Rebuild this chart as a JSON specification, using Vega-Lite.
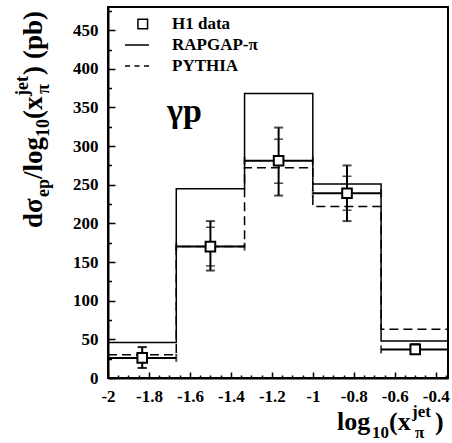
{
  "$schema": "https://vega.github.io/schema/vega-lite/v6.json",
  "width": 340,
  "height": 371,
  "autosize": {"type": "none"},
  "padding": {"left": 108, "top": 7, "right": 4, "bottom": 65},
  "background": "white",
  "config": {
    "view": {"stroke": "black", "strokeWidth": 2},
    "axis": {"labelFont": "Liberation Serif", "labelFontWeight": "bold", "labelFontSize": 17, "labelColor": "black"},
    "legend": {"labelFont": "Liberation Serif", "labelFontWeight": "bold", "labelFontSize": 17, "labelColor": "black"},
    "locale": {"number": {"decimal": ".", "thousands": ",", "grouping": [3], "currency": ["$", ""], "minus": "-"}}
  },
  "datasets": {
    "rapgap": [
      {"edge": -2, "val": 46}, {"edge": -1.6667, "val": 245}, {"edge": -1.3333, "val": 368},
      {"edge": -1, "val": 251}, {"edge": -0.6667, "val": 48}, {"edge": -0.3333, "val": 48}
    ],
    "pythia": [
      {"edge": -2, "val": 30}, {"edge": -1.6667, "val": 170}, {"edge": -1.3333, "val": 272},
      {"edge": -1, "val": 222}, {"edge": -0.6667, "val": 63}, {"edge": -0.3333, "val": 63}
    ],
    "h1": [
      {"x": -1.833, "lo": -2, "hi": -1.6667, "y": 26, "tot_lo": 13, "tot_hi": 40, "stat_lo": 13, "stat_hi": 40},
      {"x": -1.5, "lo": -1.6667, "hi": -1.3333, "y": 170, "tot_lo": 139, "tot_hi": 203, "stat_lo": 145, "stat_hi": 195},
      {"x": -1.167, "lo": -1.3333, "hi": -1, "y": 281, "tot_lo": 236, "tot_hi": 324, "stat_lo": 252, "stat_hi": 309},
      {"x": -0.833, "lo": -1, "hi": -0.6667, "y": 239, "tot_lo": 203, "tot_hi": 275, "stat_lo": 217, "stat_hi": 261},
      {"x": -0.5, "lo": -0.6667, "hi": -0.3333, "y": 37, "tot_lo": 31, "tot_hi": 44, "stat_lo": 33, "stat_hi": 42}
    ],
    "legend": [
      {"series": "H1 data"}, {"series": "RAPGAP-π"}, {"series": "PYTHIA"}
    ]
  },
  "resolve": {"axis": {"x": "independent", "y": "independent"}},
  "layer": [
    {
      "data": {"name": "rapgap"},
      "mark": {"type": "line", "interpolate": "step-after", "color": "black", "strokeWidth": 1.5, "clip": true},
      "encoding": {
        "x": {"field": "edge", "type": "quantitative",
          "scale": {"domain": [-2, -0.34], "nice": false, "zero": false},
          "axis": {"orient": "bottom", "values": [-2, -1.8, -1.6, -1.4, -1.2, -1, -0.8, -0.6, -0.4], "format": "~g",
            "title": null, "grid": false, "tickSize": -6, "tickWidth": 1.5, "tickColor": "black",
            "domainWidth": 2, "domainColor": "black", "labelFont": "Liberation Serif", "labelFontWeight": "bold",
            "labelFontSize": 17, "labelColor": "black", "labelPadding": 16, "labelFlush": false, "labelOverlap": false}},
        "y": {"field": "val", "type": "quantitative",
          "scale": {"domain": [0, 480], "nice": false, "zero": true},
          "axis": {"orient": "left", "values": [0, 50, 100, 150, 200, 250, 300, 350, 400, 450],
            "title": null, "grid": false, "tickSize": -7, "tickWidth": 1.5, "tickColor": "black",
            "domainWidth": 2, "domainColor": "black", "labelFont": "Liberation Serif", "labelFontWeight": "bold",
            "labelFontSize": 17, "labelColor": "black", "labelPadding": 17, "labelFlush": false, "labelOverlap": false}}
      }
    },
    {
      "data": {"name": "pythia"},
      "mark": {"type": "line", "interpolate": "step-after", "color": "black", "strokeWidth": 1.5, "strokeDash": [9, 5], "clip": true},
      "encoding": {
        "x": {"field": "edge", "type": "quantitative",
          "axis": {"orient": "bottom", "values": [-1.95, -1.9, -1.85, -1.75, -1.7, -1.65, -1.55, -1.5, -1.45, -1.35, -1.3, -1.25, -1.15, -1.1, -1.05, -0.95, -0.9, -0.85, -0.75, -0.7, -0.65, -0.55, -0.5, -0.45, -0.35],
            "title": null, "grid": false, "labels": false, "domain": false, "tickSize": -3, "tickWidth": 1.5, "tickColor": "black"}},
        "y": {"field": "val", "type": "quantitative",
          "axis": {"orient": "left", "values": [25, 75, 125, 175, 225, 275, 325, 375, 425, 475],
            "title": null, "grid": false, "labels": false, "domain": false, "tickSize": -3.5, "tickWidth": 1.5, "tickColor": "black"}}
      }
    },
    {
      "data": {"name": "h1"},
      "mark": {"type": "rule", "color": "black", "strokeWidth": 2, "clip": true},
      "encoding": {
        "x": {"field": "lo", "type": "quantitative", "axis": null},
        "x2": {"field": "hi"},
        "y": {"field": "y", "type": "quantitative", "axis": null}
      }
    },
    {
      "data": {"name": "h1"},
      "mark": {"type": "tick", "orient": "vertical", "color": "black", "size": 8, "thickness": 2, "clip": true},
      "encoding": {
        "x": {"field": "lo", "type": "quantitative", "axis": null},
        "y": {"field": "y", "type": "quantitative", "axis": null}
      }
    },
    {
      "data": {"name": "h1"},
      "mark": {"type": "tick", "orient": "vertical", "color": "black", "size": 8, "thickness": 2, "clip": true},
      "encoding": {
        "x": {"field": "hi", "type": "quantitative", "axis": null},
        "y": {"field": "y", "type": "quantitative", "axis": null}
      }
    },
    {
      "data": {"name": "h1"},
      "mark": {"type": "rule", "color": "black", "strokeWidth": 2},
      "encoding": {
        "x": {"field": "x", "type": "quantitative", "axis": null},
        "y": {"field": "tot_lo", "type": "quantitative", "axis": null},
        "y2": {"field": "tot_hi"}
      }
    },
    {
      "data": {"name": "h1"},
      "mark": {"type": "tick", "orient": "horizontal", "color": "black", "size": 9, "thickness": 2},
      "encoding": {
        "x": {"field": "x", "type": "quantitative", "axis": null},
        "y": {"field": "tot_lo", "type": "quantitative", "axis": null}
      }
    },
    {
      "data": {"name": "h1"},
      "mark": {"type": "tick", "orient": "horizontal", "color": "black", "size": 9, "thickness": 2},
      "encoding": {
        "x": {"field": "x", "type": "quantitative", "axis": null},
        "y": {"field": "tot_hi", "type": "quantitative", "axis": null}
      }
    },
    {
      "data": {"name": "h1"},
      "mark": {"type": "tick", "orient": "horizontal", "color": "black", "size": 9, "thickness": 1.5},
      "encoding": {
        "x": {"field": "x", "type": "quantitative", "axis": null},
        "y": {"field": "stat_lo", "type": "quantitative", "axis": null}
      }
    },
    {
      "data": {"name": "h1"},
      "mark": {"type": "tick", "orient": "horizontal", "color": "black", "size": 9, "thickness": 1.5},
      "encoding": {
        "x": {"field": "x", "type": "quantitative", "axis": null},
        "y": {"field": "stat_hi", "type": "quantitative", "axis": null}
      }
    },
    {
      "data": {"name": "h1"},
      "mark": {"type": "point", "shape": "M-0.4,-0.4H0.4V0.4H-0.4Z", "filled": true, "fill": "white", "stroke": "black", "strokeWidth": 2, "size": 576, "opacity": 1},
      "encoding": {
        "x": {"field": "x", "type": "quantitative", "axis": null},
        "y": {"field": "y", "type": "quantitative", "axis": null}
      }
    },
    {
      "data": {"name": "legend"},
      "mark": {"type": "point", "opacity": 0, "size": 1},
      "encoding": {
        "x": {"datum": -1.8, "type": "quantitative", "axis": null},
        "y": {"datum": 430, "type": "quantitative", "axis": null},
        "shape": {"field": "series", "type": "nominal",
          "scale": {"domain": ["H1 data", "RAPGAP-π", "PYTHIA"],
            "range": ["M0.08,-0.4H0.88V0.4H0.08Z", "M-1,0H1", "M-1,0H-0.58M-0.21,0H0.21M0.58,0H1"]},
          "legend": {"orient": "none", "legendX": 16, "legendY": 4, "title": null, "padding": 0,
            "labelFont": "Liberation Serif", "labelFontWeight": "bold", "labelFontSize": 17, "labelColor": "black",
            "labelOffset": 22, "rowPadding": 0, "symbolSize": 576, "symbolStrokeWidth": 1.5,
            "symbolStrokeColor": "black", "symbolFillColor": "white", "symbolOpacity": 1}}
      }
    },
    {
      "data": {"values": [{}]},
      "mark": {"type": "text", "text": "γp", "font": "Liberation Serif", "fontWeight": "bold", "fontSize": 34, "align": "left", "baseline": "alphabetic", "color": "black"},
      "encoding": {
        "x": {"datum": -1.712, "type": "quantitative", "axis": null},
        "y": {"datum": 331, "type": "quantitative", "axis": null}
      }
    },
    {
      "data": {"values": [{}]},
      "encoding": {
        "x": {"datum": -0.34, "type": "quantitative", "axis": null},
        "y": {"datum": 0, "type": "quantitative", "axis": null}
      },
      "layer": [
        {"mark": {"type": "text", "text": "log", "font": "Liberation Serif", "fontWeight": "bold", "fontSize": 26, "align": "left", "baseline": "alphabetic", "color": "black", "dx": -111, "dy": 52}},
        {"mark": {"type": "text", "text": "10", "font": "Liberation Serif", "fontWeight": "bold", "fontSize": 17, "align": "left", "baseline": "alphabetic", "color": "black", "dx": -76, "dy": 60}},
        {"mark": {"type": "text", "text": "(x", "font": "Liberation Serif", "fontWeight": "bold", "fontSize": 26, "align": "left", "baseline": "alphabetic", "color": "black", "dx": -59, "dy": 52}},
        {"mark": {"type": "text", "text": "jet", "font": "Liberation Serif", "fontWeight": "bold", "fontSize": 17, "align": "left", "baseline": "alphabetic", "color": "black", "dx": -36, "dy": 39}},
        {"mark": {"type": "text", "text": "π", "font": "Liberation Serif", "fontWeight": "bold", "fontSize": 17, "align": "left", "baseline": "alphabetic", "color": "black", "dx": -33, "dy": 60}},
        {"mark": {"type": "text", "text": ")", "font": "Liberation Serif", "fontWeight": "bold", "fontSize": 26, "align": "left", "baseline": "alphabetic", "color": "black", "dx": -13, "dy": 52}}
      ]
    },
    {
      "data": {"values": [{}]},
      "encoding": {
        "x": {"datum": -2, "type": "quantitative", "axis": null},
        "y": {"datum": 0, "type": "quantitative", "axis": null}
      },
      "layer": [
        {"mark": {"type": "text", "text": "dσ", "angle": 270, "font": "Liberation Serif", "fontWeight": "bold", "fontSize": 27, "align": "left", "baseline": "alphabetic", "color": "black", "dx": 150, "dy": -66}},
        {"mark": {"type": "text", "text": "ep", "angle": 270, "font": "Liberation Serif", "fontWeight": "bold", "fontSize": 18, "align": "left", "baseline": "alphabetic", "color": "black", "dx": 181, "dy": -59}},
        {"mark": {"type": "text", "text": "/log", "angle": 270, "font": "Liberation Serif", "fontWeight": "bold", "fontSize": 27, "align": "left", "baseline": "alphabetic", "color": "black", "dx": 199, "dy": -66}},
        {"mark": {"type": "text", "text": "10", "angle": 270, "font": "Liberation Serif", "fontWeight": "bold", "fontSize": 18, "align": "left", "baseline": "alphabetic", "color": "black", "dx": 241, "dy": -59}},
        {"mark": {"type": "text", "text": "(x", "angle": 270, "font": "Liberation Serif", "fontWeight": "bold", "fontSize": 27, "align": "left", "baseline": "alphabetic", "color": "black", "dx": 259, "dy": -66}},
        {"mark": {"type": "text", "text": "jet", "angle": 270, "font": "Liberation Serif", "fontWeight": "bold", "fontSize": 18, "align": "left", "baseline": "alphabetic", "color": "black", "dx": 282, "dy": -80}},
        {"mark": {"type": "text", "text": "π", "angle": 270, "font": "Liberation Serif", "fontWeight": "bold", "fontSize": 18, "align": "left", "baseline": "alphabetic", "color": "black", "dx": 284, "dy": -59}},
        {"mark": {"type": "text", "text": ")", "angle": 270, "font": "Liberation Serif", "fontWeight": "bold", "fontSize": 27, "align": "left", "baseline": "alphabetic", "color": "black", "dx": 303, "dy": -66}},
        {"mark": {"type": "text", "text": "(pb)", "angle": 270, "font": "Liberation Serif", "fontWeight": "bold", "fontSize": 27, "align": "left", "baseline": "alphabetic", "color": "black", "dx": 319, "dy": -66}}
      ]
    }
  ]
}
